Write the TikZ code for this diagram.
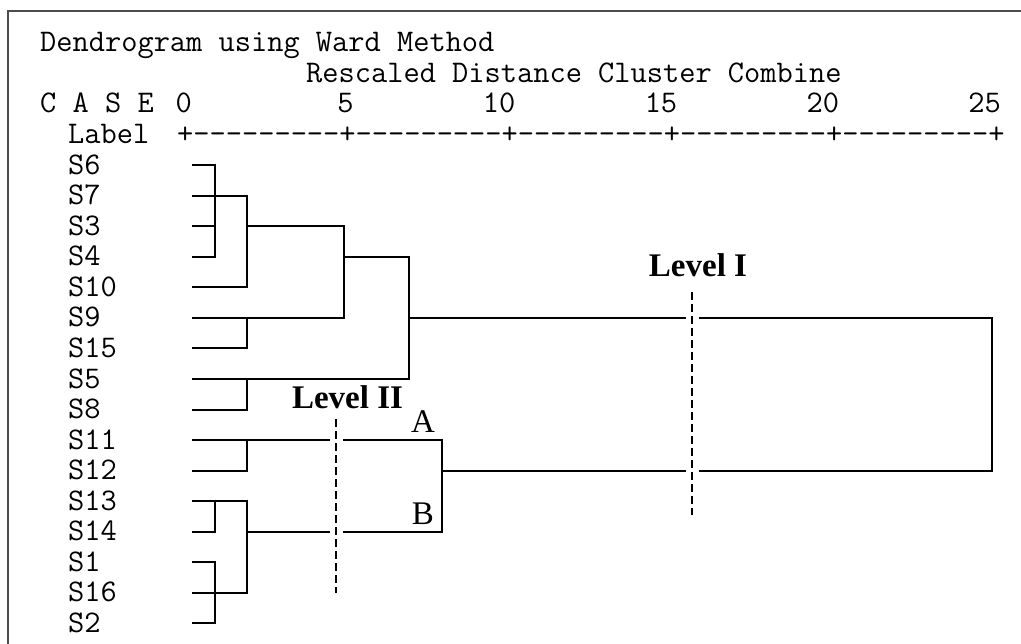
\documentclass[tikz,border=0pt]{standalone}
\usepackage{fontspec}
\usepackage{tikz}
\usetikzlibrary{positioning}

\newfontfamily\levelfont{Liberation Serif}
\newcommand{\axisdashes}{-{}-{}-{}-{}-{}-{}-{}-{}-}

\begin{document}
\begin{tikzpicture}[
        x=1pt, y=-1pt,
        txt/.style={inner sep=0pt, font=\ttfamily\fontsize{31.5}{34}\selectfont},
        lvl/.style={inner sep=0pt, font=\levelfont\bfseries\fontsize{33}{36}\selectfont},
        grp/.style={inner sep=0pt, font=\levelfont\fontsize{33}{36}\selectfont},
        link/.style={line width=2pt},
        cut/.style={line width=1.5pt, dash pattern=on 8pt off 4pt},
        gap/.style={white, line width=13pt},
        frame/.style={line width=1.3pt, black!70}
    ]
        \useasboundingbox (0,0) rectangle (1021,644);
        \draw[frame] (1021,11) -- (8,11) -- (8,644);

        % header lines
        \node[txt, anchor=base west] (title) at (40,52) {Dendrogram using Ward Method};
        \node[txt, anchor=base west] (scale) at (306,82.5) {Rescaled Distance Cluster Combine};
        \node[txt, anchor=base west] (case) at (40,113) {C A S E};
        \foreach \v in {0,5,...,25}
            \node[txt, anchor=base east] (t\v) at ({192+32.36*\v},113) {\v};
        \node[txt, anchor=base west] (label) at (68,143.6) {Label};
        \node[txt, anchor=base west] (axis) at (177,143.6)
            {+\axisdashes+\axisdashes+\axisdashes+\axisdashes+\axisdashes+};

        % leaves
        \foreach \lab [count=\k from 4] in {S6,S7,S3,S4,S10,S9,S15,S5,S8,S11,S12,S13,S14,S1,S16,S2} {
            \node[txt, anchor=base west] (n\lab) at (68,{43+30.55*\k+9}) {\lab};
            \coordinate (\lab) at (192,{43+30.55*\k});
        }

        % merge columns
        \coordinate (x1) at (215,0);
        \coordinate (x2) at (247,0);
        \coordinate (x3) at (344,0);
        \coordinate (x4) at (409,0);
        \coordinate (x5) at (442,0);
        \coordinate (x6) at (992,0);

        % upper group
        \draw[link] (S6) -- (S6 -| x1) -- (S4 -| x1) -- (S4);
        \draw[link] (S3) -- (S3 -| x1);
        \draw[link] (S7) -- (S7 -| x2) -- (S10 -| x2) -- (S10);
        \draw[link] (S15) -- (S15 -| x2) -- (S9 -| x2);
        \draw[link] (S9) -- (S9 -| x3) -- (S3 -| x3) -- (S3 -| x2);
        \draw[link] (S8) -- (S8 -| x2) -- (S5 -| x2);
        \draw[link] (S4 -| x3) -- (S4 -| x4) -- (S5 -| x4) -- (S5);

        % lower group
        \draw[link] (S12) -- (S12 -| x2) -- (S11 -| x2);
        \draw[link] (S14) -- (S14 -| x1) -- (S13 -| x1);
        \draw[link] (S1) -- (S1 -| x1) -- (S2 -| x1) -- (S2);
        \draw[link] (S13) -- (S13 -| x2) -- (S16 -| x2) -- (S16);
        \draw[link] (S11) -- (S11 -| x5) -- (S14 -| x5) -- (S14 -| x2);

        % last join
        \draw[link] (S9 -| x4) -- (S9 -| x6) -- (S12 -| x6) -- (S12 -| x5);

        % cut levels
        \coordinate (Itop) at (692,292);
        \coordinate (Ibot) at (692,515);
        \coordinate (IItop) at (336,419);
        \coordinate (IIbot) at (336,593);
        \draw[gap] (Itop) -- (Ibot);
        \draw[cut] (Itop) -- (Ibot);
        \draw[gap] (IItop) -- (IIbot);
        \draw[cut] (IItop) -- (IIbot);

        \node[lvl, anchor=base] (levI) at (698,277) {Level I};
        \node[lvl, anchor=base] (levII) at (347.5,409) {Level II};
        \node[grp, anchor=base] (grpA) at (423,432) {A};
        \node[grp, anchor=base] (grpB) at (423,524) {B};
    \end{tikzpicture}
\end{document}
